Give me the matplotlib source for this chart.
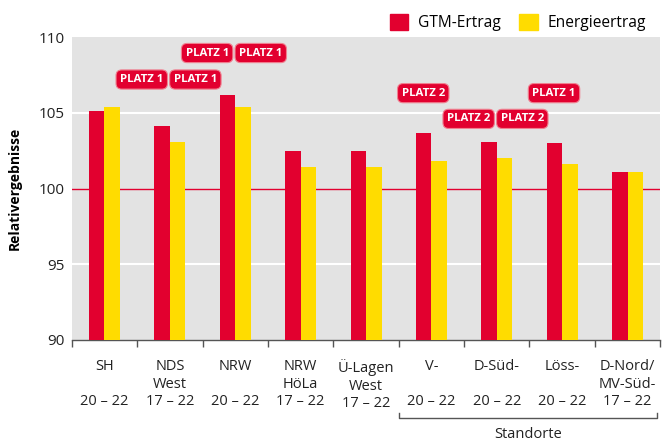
import matplotlib.pyplot as plt
from matplotlib.patches import Patch

plt.rcParams['font.family'] = ['Open Sans', 'DejaVu Sans']

# data
orte = ['SH\n\n20 – 22', 'NDS\nWest\n17 – 22', 'NRW\n\n20 – 22', 'NRW\nHöLa\n17 – 22',
        'Ü-Lagen\nWest\n17 – 22', 'V-\n\n20 – 22', 'D-Süd-\n\n20 – 22', 'Löss-\n\n20 – 22',
        'D-Nord/\nMV-Süd-\n17 – 22']
gtm_ertrag = [105.1, 104.1, 106.2, 102.5, 102.5, 103.7, 103.1, 103.0, 101.1]
energie_ertrag = [105.4, 103.1, 105.4, 101.4, 101.4, 101.8, 102.0, 101.6, 101.1]

# "Platz" badges: text, group index, side (-1 left, +1 right, 0 single), height
badge_text = ['PLATZ 1', 'PLATZ 1', 'PLATZ 1', 'PLATZ 1', 'PLATZ 2', 'PLATZ 2', 'PLATZ 2', 'PLATZ 1']
badge_group = [1, 1, 2, 2, 5, 6, 6, 7]
badge_side = [-1, 1, -1, 1, 0, -1, 1, 0]
badge_y = [107.2, 107.2, 108.95, 108.95, 106.3, 104.6, 104.6, 106.3]

RED = '#e2002f'
YEL = '#ffdc00'

fig = plt.figure(figsize=(6.71, 4.42), dpi=100)
ax = fig.add_axes([0.107, 0.231, 0.877, 0.685])
ax.set_facecolor('#e3e3e3')

x = list(range(len(orte)))
w = 0.237
ax.bar([i - w / 2 for i in x], [v - 90 for v in gtm_ertrag], w, bottom=90, color=RED, zorder=3)
ax.bar([i + w / 2 for i in x], [v - 90 for v in energie_ertrag], w, bottom=90, color=YEL, zorder=3)

ax.set_xlim(-0.5, len(orte) - 0.5)
ax.set_ylim(90, 110)
ax.set_yticks([90, 95, 100, 105, 110])
for yy in [95, 105]:
    ax.axhline(yy, color='white', lw=1.5, zorder=1)
ax.axhline(100, color=RED, lw=1, zorder=2)

for s in ['top', 'right', 'left']:
    ax.spines[s].set_visible(False)
ax.spines['bottom'].set_color('#555555')
ax.spines['bottom'].set_linewidth(1)

ax.set_xticks(x)
ax.set_xticklabels(orte, fontsize=10.5, linespacing=1.2, color='#222222')
ax.set_xticks([i - 0.5 for i in range(len(orte) + 1)], minor=True)
ax.tick_params(axis='x', which='major', length=0, pad=14)
ax.tick_params(axis='x', which='minor', length=5, color='#555555', width=1)
ax.tick_params(axis='y', length=0, labelsize=11, pad=5, labelcolor='#222222')

ax.set_ylabel('Relativergebnisse', fontsize=10, fontweight='bold', labelpad=12)

for t, g, sd, yy in zip(badge_text, badge_group, badge_side, badge_y):
    xx = g - 0.02 + 0.41 * sd if sd != 0 else g - 0.125
    ax.text(xx, yy, t, ha='center', va='center', color='white', fontsize=8.2,
            fontweight='bold', zorder=5,
            bbox=dict(boxstyle='round,pad=0.36,rounding_size=0.5', fc=RED, ec='#f08090', lw=0.8))

# bracket under the "Standorte" groups
tr = ax.get_xaxis_transform()
ax.plot([4.5, 4.5, 8.45, 8.45], [-0.241, -0.258, -0.258, -0.241], transform=tr,
        color='#555555', lw=1, clip_on=False)
ax.text((4.5 + 8.45) / 2, -0.314, 'Standorte', transform=tr, ha='center', va='center',
        fontsize=10.5, color='#222222')

handles = [Patch(color=RED, label='GTM-Ertrag'), Patch(color=YEL, label='Energieertrag')]
fig.legend(handles=handles, loc='upper right', bbox_to_anchor=(0.983, 1.0), ncol=2,
           frameon=False, fontsize=11.2, handlelength=1.2, handleheight=1.2,
           columnspacing=1.2, handletextpad=0.6)

fig.savefig('out.png', dpi=100)
